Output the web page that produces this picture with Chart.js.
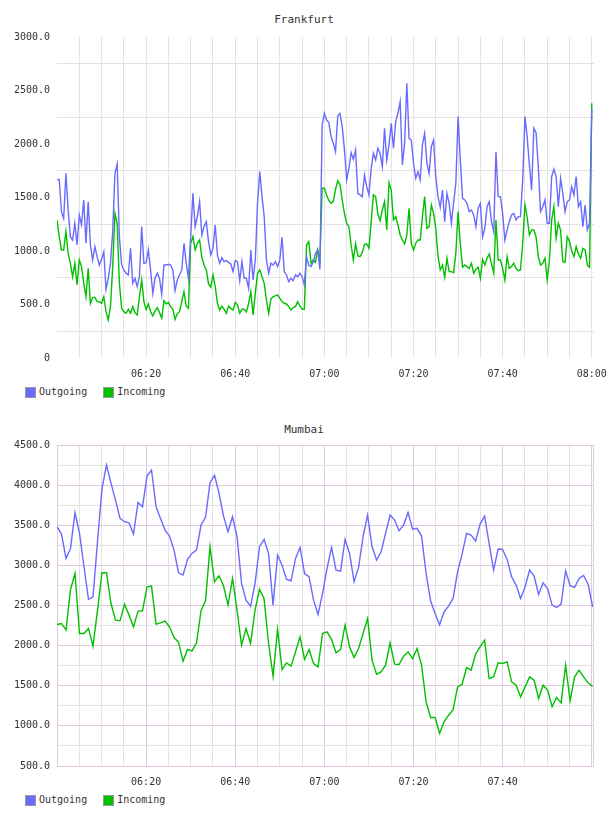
<!DOCTYPE html>
<html>
<head>
<meta charset="utf-8">
<title>Frankfurt / Mumbai traffic</title>
<script src="https://cdn.jsdelivr.net/npm/chart.js@4.4.0/dist/chart.umd.min.js"></script>
<style>
    body {
        margin: 0;
        width: 608px;
        height: 816px;
        position: relative;
        overflow: hidden;
        background: #fff;
        font-family: 'DejaVu Sans Mono', monospace;
        color: #333;
    }
    .title {
        position: absolute;
        left: 0;
        width: 608px;
        text-align: center;
        font-size: 11px;
        line-height: 13px;
    }
    .plot {
        position: absolute;
        left: 0;
    }
    .legend {
        position: absolute;
        left: 25px;
        display: flex;
        align-items: center;
        font-size: 10px;
        line-height: 12px;
    }
    .legend .item {
        display: flex;
        align-items: center;
        margin-right: 16px;
    }
    .legend .swatch {
        width: 9px;
        height: 9px;
        border: 1px solid #999;
        margin-right: 3px;
    }
</style>
</head>
<body>

<div class="title" style="top: 13px;">Frankfurt</div>
<canvas id="frankfurtChart" class="plot" style="top: 30px;" width="608" height="350"></canvas>
<div id="frankfurtLegend" class="legend" style="top: 386px;"></div>

<div class="title" style="top: 423px;">Mumbai</div>
<canvas id="mumbaiChart" class="plot" style="top: 438px;" width="608" height="350"></canvas>
<div id="mumbaiLegend" class="legend" style="top: 794px;"></div>

<script>
// Time axis: minutes after 06:00
const TIME_START = 6 * 60;
const TIME_SPAN = 120.5;
const FRANKFURT_STEP = 0.5;   // a sample every 30 s
const MUMBAI_STEP = 1.01;     // about one sample a minute

const frankfurtTimeLabels = ['06:20', '06:40', '07:00', '07:20', '07:40', '08:00'];
const mumbaiTimeLabels = ['06:20', '06:40', '07:00', '07:20', '07:40'];
const frankfurtValueLabels = ['0', '500.0', '1000.0', '1500.0', '2000.0', '2500.0', '3000.0'];
const mumbaiValueLabels = ['500.0', '1000.0', '1500.0', '2000.0', '2500.0', '3000.0', '3500.0', '4000.0', '4500.0'];

const frankfurtOutgoing = [
    1664, 1670, 1368, 1305, 1726, 1383, 1134, 1103, 1259, 1056,
    1337, 1243, 1477, 1072, 1461, 1056, 916, 1041, 947, 869,
    922, 994, 642, 745, 885, 1181, 1726, 1813, 1134, 869,
    823, 792, 776, 1025, 698, 745, 667, 760, 1228, 885,
    891, 1010, 823, 605, 745, 792, 745, 595, 869, 869,
    876, 869, 823, 630, 729, 776, 823, 1072, 885, 745,
    1134, 1539, 1228, 1321, 1461, 1150, 1228, 1274, 1088, 963,
    1025, 1243, 963, 885, 938, 900, 910, 894, 879, 807,
    910, 900, 723, 900, 745, 745, 651, 1010, 729, 916,
    1446, 1742, 1508, 1321, 916, 792, 885, 869, 900, 854,
    916, 1128, 807, 776, 714, 745, 723, 776, 760, 792,
    760, 683, 947, 866, 854, 900, 978, 1010, 829, 2178,
    2287, 2224, 2200, 2069, 2006, 1928, 2262, 2287, 2162, 1950,
    1664, 1773, 1919, 1857, 1944, 1539, 1524, 1508, 1710, 1601,
    1524, 1773, 1913, 1851, 1960, 1913, 1788, 2147, 1851, 1991,
    2193, 1960, 2209, 2287, 2396, 1804, 2006, 2567, 2053, 2037,
    1820, 1679, 1742, 1664, 1991, 2100, 1820, 1726, 1975, 2038,
    1695, 1508, 1408, 1570, 1274, 1539, 1446, 1259, 1452, 1633,
    2256, 1851, 1492, 1477, 1446, 1368, 1383, 1337, 1228, 1399,
    1446, 1134, 1212, 1414, 1461, 1274, 1181, 1928, 1508, 1508,
    1352, 1103, 1197, 1274, 1337, 1352, 1290, 1321, 1321, 1664,
    2256, 2069, 1804, 1570, 2147, 2106, 1788, 1368, 1414, 1477,
    1259, 1259, 1695, 1764, 1695, 1414, 1679, 1539, 1368, 1461,
    1477, 1601, 1524, 1695, 1414, 1461, 1228, 1430, 1197, 1259,
    2324
];
const frankfurtIncoming = [
    1290, 1134, 1010, 1010, 1181, 978, 885, 760, 885, 683,
    916, 854, 698, 573, 838, 511, 567, 567, 527, 527,
    511, 573, 433, 355, 480, 854, 1352, 1259, 698, 464,
    433, 418, 455, 418, 480, 424, 402, 573, 729, 527,
    455, 505, 433, 393, 440, 471, 424, 371, 536, 505,
    520, 480, 455, 362, 415, 433, 527, 620, 486, 464,
    1072, 1134, 1010, 1072, 1103, 941, 869, 823, 692, 661,
    776, 667, 511, 449, 486, 455, 418, 486, 464, 449,
    520, 496, 418, 455, 455, 430, 511, 620, 402, 604,
    791, 823, 760, 698, 542, 418, 551, 573, 580, 589,
    558, 527, 511, 505, 480, 449, 471, 480, 527, 486,
    455, 455, 1056, 1088, 885, 916, 894, 1010, 916, 1586,
    1586, 1524, 1471, 1446, 1461, 1577, 1657, 1623, 1477, 1352,
    1259, 1228, 1056, 916, 1066, 954, 947, 985, 1063, 1066,
    1025, 1274, 1524, 1508, 1346, 1284, 1383, 1461, 1197, 1639,
    1570, 1290, 1321, 1243, 1150, 1103, 1066, 1150, 1399, 1072,
    1010, 1072, 1103, 1103, 1321, 1508, 1212, 1228, 1430, 1352,
    1212, 947, 823, 869, 754, 932, 807, 807, 798, 978,
    1368, 1072, 848, 869, 854, 835, 885, 792, 829, 848,
    745, 922, 869, 932, 972, 879, 792, 1290, 916, 916,
    838, 729, 947, 838, 854, 885, 838, 816, 823, 1072,
    1430, 1315, 1150, 1197, 1197, 1134, 947, 869, 885, 932,
    729, 916, 1290, 1414, 1119, 1259, 1197, 900, 894, 1134,
    1088, 1000, 947, 1041, 972, 932, 1025, 1010, 869, 848,
    2380
];

const mumbaiOutgoing = [
    3482, 3390, 3087, 3211, 3656, 3398, 2983, 2575, 2608, 3294,
    3960, 4250, 4022, 3814, 3585, 3544, 3531, 3390, 3785, 3731,
    4113, 4188, 3731, 3585, 3440, 3365, 3190, 2908, 2879, 3074,
    3149, 3190, 3502, 3598, 4030, 4122, 3897, 3614, 3419, 3606,
    3357, 2775, 2567, 2490, 2775, 3232, 3324, 3149, 2505, 3128,
    3003, 2825, 2808, 3087, 3224, 2899, 2858, 2567, 2388, 2650,
    2962, 3224, 2941, 2929, 3324, 3149, 2796, 2974, 3357, 3627,
    3232, 3066, 3170, 3398, 3627, 3565, 3432, 3502, 3660, 3452,
    3461, 3365, 2899, 2559, 2401, 2260, 2421, 2492, 2588, 2920,
    3141, 3398, 3378, 3303, 3515, 3614, 3274, 2941, 3203, 3199,
    3074, 2858, 2754, 2588, 2733, 2941, 2866, 2638, 2783, 2712,
    2505, 2475, 2517, 2933, 2746, 2725, 2837, 2875, 2766, 2484
];
const mumbaiIncoming = [
    2263, 2276, 2193, 2700, 2899, 2151, 2151, 2214, 1993, 2442,
    2908, 2908, 2525, 2317, 2309, 2517, 2380, 2234, 2430, 2434,
    2733, 2742, 2268, 2284, 2305, 2234, 2101, 2043, 1806, 1952,
    1935, 2035, 2434, 2559, 3232, 2796, 2870, 2742, 2505, 2837,
    2442, 2006, 2214, 2027, 2442, 2700, 2588, 2027, 1619, 2205,
    1702, 1785, 1744, 1923, 2110, 1827, 1952, 1777, 1735, 2151,
    2172, 2076, 1910, 1952, 2255, 1985, 1852, 1964, 2151, 2338,
    1819, 1644, 1673, 1756, 2035, 1769, 1765, 1869, 1923, 1839,
    1964, 1756, 1299, 1104, 1104, 908, 1050, 1133, 1203, 1486,
    1519, 1727, 1694, 1893, 1985, 2068, 1590, 1611, 1785, 1777,
    1798, 1549, 1507, 1361, 1486, 1611, 1569, 1341, 1507, 1445,
    1237, 1353, 1287, 1756, 1311, 1611, 1694, 1611, 1536, 1494
];

const OUT_COLOR = '#6a6aff';
const IN_COLOR = '#00c000';
const TEXT_COLOR = '#333';
const GRID_GRAY = '#e3e3e3';
const GRID_PINK = '#e2c6e2';
const NONE = 'rgba(0,0,0,0)';

Chart.defaults.font.family = "'DejaVu Sans Mono', monospace";
Chart.defaults.font.size = 10;
Chart.defaults.color = TEXT_COLOR;

function clock(minutes) {
    const t = Math.round(TIME_START + minutes);
    const h = Math.floor(t / 60);
    const m = t % 60;
    return String(h).padStart(2, '0') + ':' + String(m).padStart(2, '0');
}

function toPoints(values, step) {
    return values.map((v, i) => ({ x: i * step, y: v }));
}

// Outline of the plot area (Mumbai only)
const plotFrame = {
    id: 'plotFrame',
    beforeDatasetsDraw(chart, args, opts) {
        if (!opts.color) {
            return;
        }
        const a = chart.chartArea;
        const ctx = chart.ctx;
        ctx.save();
        ctx.strokeStyle = opts.color;
        ctx.lineWidth = 1;
        ctx.strokeRect(Math.round(a.left) + 0.5, Math.round(a.top) + 0.5,
            Math.round(a.right - a.left) - 1, Math.round(a.bottom - a.top));
        ctx.restore();
    }
};

function buildChart(canvasId, cfg) {
    const ctx = document.getElementById(canvasId);

    return new Chart(ctx, {
        type: 'line',
        data: {
            datasets: [{
                label: 'Outgoing',
                data: toPoints(cfg.outgoing, cfg.step),
                borderColor: OUT_COLOR,
                backgroundColor: OUT_COLOR
            }, {
                label: 'Incoming',
                data: toPoints(cfg.incoming, cfg.step),
                borderColor: IN_COLOR,
                backgroundColor: IN_COLOR
            }]
        },
        options: {
            responsive: false,
            animation: false,
            devicePixelRatio: 1,
            layout: {
                padding: { top: 7, right: 14, bottom: 0, left: 0 }
            },
            elements: {
                point: { radius: 0 },
                line: { borderWidth: 1.4, tension: 0 }
            },
            plugins: {
                legend: { display: false },
                title: { display: false },
                tooltip: { enabled: false },
                plotFrame: { color: cfg.frameColor }
            },
            scales: {
                x: {
                    type: 'linear',
                    min: 0,
                    max: TIME_SPAN,
                    border: { display: false },
                    grid: {
                        drawTicks: false,
                        color: c => cfg.xGrid(c.tick.value)
                    },
                    ticks: {
                        stepSize: 5,
                        includeBounds: false,
                        autoSkip: false,
                        maxRotation: 0,
                        minRotation: 0,
                        padding: 10,
                        callback: value => {
                            const label = clock(value);
                            return cfg.timeLabels.includes(label) && value > 0 ? label : '';
                        }
                    },
                    afterFit: scale => {
                        scale.height = 22;
                        scale.paddingLeft = 0;
                        scale.paddingRight = 0;
                    }
                },
                y: {
                    min: cfg.yMin,
                    max: cfg.yMax,
                    border: { display: false },
                    grid: {
                        drawTicks: false,
                        color: c => cfg.yGrid(c.tick.value)
                    },
                    ticks: {
                        stepSize: 250,
                        autoSkip: false,
                        padding: 7,
                        callback: value => {
                            const idx = (value - cfg.yMin) / 500;
                            return Number.isInteger(idx) ? cfg.valueLabels[idx] : '';
                        }
                    },
                    afterFit: scale => {
                        scale.width = 57;
                        scale.paddingTop = 0;
                        scale.paddingBottom = 0;
                    }
                }
            }
        },
        plugins: [plotFrame]
    });
}

function buildLegend(chart, legendId) {
    const box = document.getElementById(legendId);
    chart.data.datasets.forEach(ds => {
        const item = document.createElement('span');
        item.className = 'item';
        const swatch = document.createElement('span');
        swatch.className = 'swatch';
        swatch.style.background = ds.borderColor;
        item.appendChild(swatch);
        item.appendChild(document.createTextNode(ds.label));
        box.appendChild(item);
    });
}

const frankfurt = buildChart('frankfurtChart', {
    outgoing: frankfurtOutgoing,
    incoming: frankfurtIncoming,
    step: FRANKFURT_STEP,
    yMin: 0,
    yMax: 3000,
    timeLabels: frankfurtTimeLabels,
    valueLabels: frankfurtValueLabels,
    frameColor: null,
    xGrid: v => (v > 0 && v % 5 === 0 ? GRID_GRAY : NONE),
    yGrid: v => (v % 500 === 250 ? GRID_GRAY : NONE)
});

const mumbai = buildChart('mumbaiChart', {
    outgoing: mumbaiOutgoing,
    incoming: mumbaiIncoming,
    step: MUMBAI_STEP,
    yMin: 500,
    yMax: 4500,
    timeLabels: mumbaiTimeLabels,
    valueLabels: mumbaiValueLabels,
    frameColor: GRID_PINK,
    xGrid: v => (v % 20 === 0 ? GRID_PINK : GRID_GRAY),
    yGrid: v => (v % 500 === 0 ? GRID_PINK : GRID_GRAY)
});

buildLegend(frankfurt, 'frankfurtLegend');
buildLegend(mumbai, 'mumbaiLegend');
</script>
</body>
</html>
